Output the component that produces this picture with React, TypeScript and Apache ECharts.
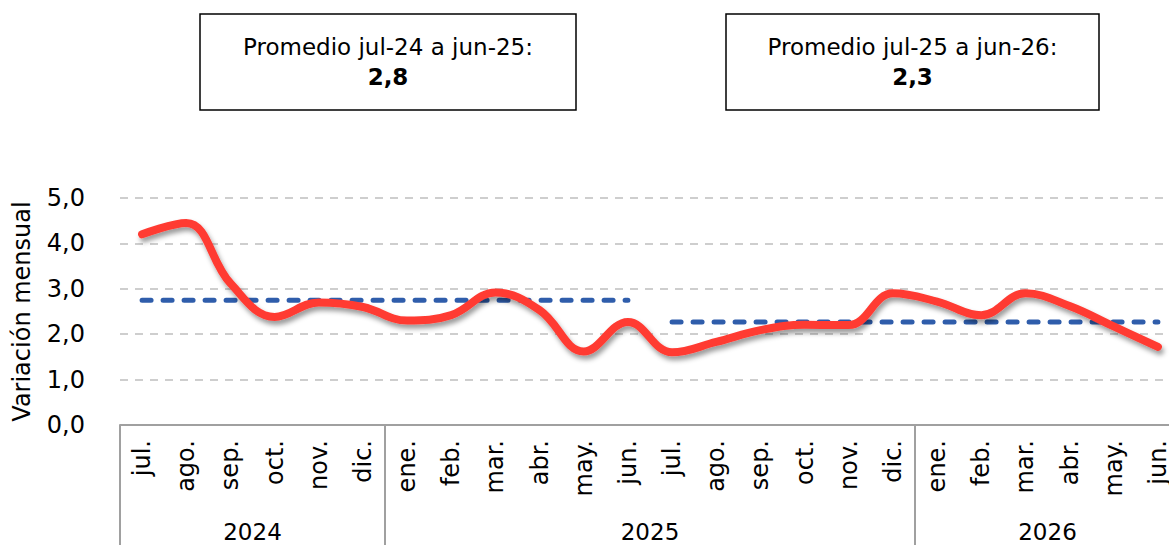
import React, { useEffect, useRef } from "react";
import * as echarts from "echarts";

const months = [
  "jul.", "ago.", "sep.", "oct.", "nov.", "dic.",
  "ene.", "feb.", "mar.", "abr.", "may.", "jun.",
  "jul.", "ago.", "sep.", "oct.", "nov.", "dic.",
  "ene.", "feb.", "mar.", "abr.", "may.", "jun.",
];
const years = ["2024", "2025", "2026"];
const yearCenters = [3, 12, 21];
const yearBounds = [0, 6, 18, 24];

const monthlyVariation = [
  4.2, 4.45, 3.12, 2.38, 2.7, 2.6,
  2.3, 2.42, 2.92, 2.53, 1.62, 2.27,
  1.6, 1.83, 2.09, 2.21, 2.2, 2.9,
  2.72, 2.42, 2.9, 2.62, 2.17, 1.72,
];

const averageValues = [2.75, 2.27];
const averageStart = [0, 12];
const averageEnd = [11, 23];
const averageLabels = ["Promedio jul-24 a jun-25:", "Promedio jul-25 a jun-26:"];
const averageTexts = ["2,8", "2,3"];

const yTicks = [0, 1, 2, 3, 4, 5];

const FONT = "'DejaVu Sans', sans-serif";

export default function App() {
  const ref = useRef<HTMLDivElement>(null);

  useEffect(() => {
    if (!ref.current) return;
    const chart = echarts.init(ref.current, null, { renderer: "svg" });

    const avgSeries = averageValues.map((v, k) => ({
      type: "line",
      xAxisIndex: 0,
      yAxisIndex: 0,
      data: months.map((_, i) => (i >= averageStart[k] && i <= averageEnd[k] ? v : null)),
      symbol: "none",
      lineStyle: { color: "#2F5DAB", width: 5, type: [9, 12], cap: "round" },
      z: 2,
    }));

    const boxes = [
      { x: 200, y: 14, w: 376, h: 96 },
      { x: 726, y: 14, w: 373, h: 96 },
    ];

    const graphics: any[] = [];
    boxes.forEach((b, k) => {
      graphics.push({
        type: "rect",
        shape: { x: b.x, y: b.y, width: b.w, height: b.h },
        style: { fill: "#fff", stroke: "#000", lineWidth: 1.5 },
      });
      graphics.push({
        type: "text",
        x: b.x + b.w / 2,
        y: b.y + 33,
        style: {
          text: averageLabels[k],
          fill: "#000",
          font: `23px ${FONT}`,
          align: "center",
          verticalAlign: "middle",
        },
      });
      graphics.push({
        type: "text",
        x: b.x + b.w / 2,
        y: b.y + 63,
        style: {
          text: averageTexts[k],
          fill: "#000",
          font: `bold 23px ${FONT}`,
          align: "center",
          verticalAlign: "middle",
        },
      });
    });

    chart.setOption({
      animation: false,
      backgroundColor: "#fff",
      grid: {
        left: 120,
        top: 198,
        bottom: 120,
        width: 1060,
        containLabel: false,
        outerBoundsMode: "none",
      },
      xAxis: [
        {
          type: "category",
          data: months,
          boundaryGap: true,
          axisLine: { show: true, lineStyle: { color: "#A0A0A0", width: 2 } },
          axisTick: { show: false },
          axisLabel: {
            rotate: 90,
            interval: 0,
            margin: 15,
            fontSize: 24,
            color: "#000",
            fontFamily: FONT,
            hideOverlap: false,
          },
        },
        {
          type: "value",
          min: 0,
          max: 24,
          position: "bottom",
          axisLine: { show: false },
          splitLine: { show: false },
          axisTick: {
            show: true,
            customValues: yearBounds,
            length: 120,
            lineStyle: { color: "#A0A0A0", width: 2 },
          },
          axisLabel: {
            customValues: yearCenters,
            formatter: (v: number) => years[yearCenters.indexOf(Math.round(v))] ?? "",
            margin: 95,
            fontSize: 23,
            color: "#000",
            fontFamily: FONT,
          },
        },
      ],
      yAxis: {
        type: "value",
        min: 0,
        max: 5,
        interval: 1,
        name: "Variación mensual",
        nameLocation: "middle",
        nameGap: 86,
        nameTextStyle: { fontSize: 24, color: "#000", fontFamily: FONT },
        axisLine: { show: false },
        axisTick: { show: false },
        axisLabel: {
          margin: 35,
          fontSize: 24,
          color: "#000",
          fontFamily: FONT,
          customValues: yTicks,
          formatter: (v: number) => v.toFixed(1).replace(".", ","),
        },
        splitLine: {
          show: true,
          lineStyle: { color: "#BFBFBF", width: 1.5, type: [8, 7] },
        },
      },
      series: [
        ...avgSeries,
        {
          type: "line",
          data: monthlyVariation,
          smooth: 0.4,
          symbol: "none",
          lineStyle: {
            color: "#FF3B33",
            width: 8,
            cap: "round",
            shadowColor: "rgba(0,0,0,0.4)",
            shadowBlur: 5,
            shadowOffsetX: 2,
            shadowOffsetY: 4,
          },
          z: 3,
        },
      ],
      graphic: graphics,
    });

    return () => chart.dispose();
  }, []);

  return (
    <div
      ref={ref}
      style={{ position: "fixed", left: 0, top: 0, width: 1169, height: 545, background: "#fff" }}
    />
  );
}
